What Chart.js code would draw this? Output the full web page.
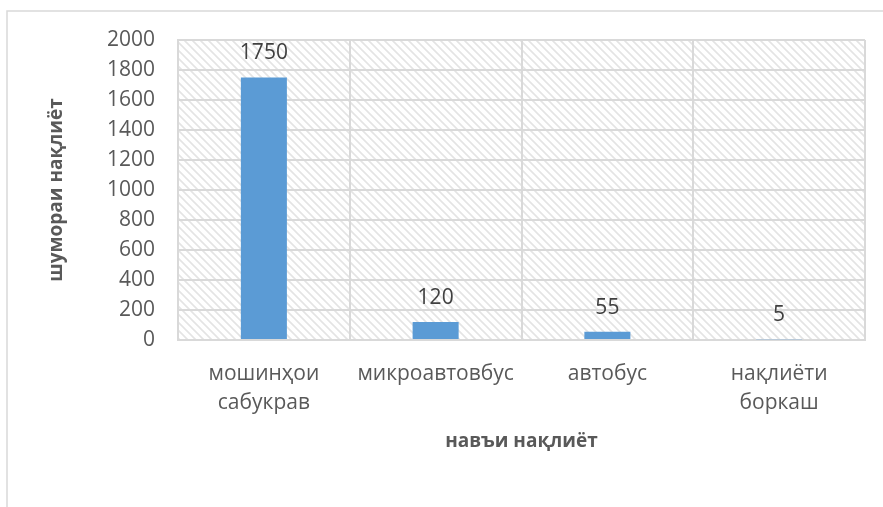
<!DOCTYPE html>
<html>
<head>
<meta charset="utf-8">
<script src="https://cdn.jsdelivr.net/npm/chart.js@4/dist/chart.umd.min.js"></script>
<style>
  html, body { margin: 0; padding: 0; background: #ffffff; }
  #wrap { width: 883px; height: 507px; position: relative; }
</style>
</head>
<body>
<div id="wrap"><canvas id="c" width="883" height="507"></canvas></div>
<script>
const categories = [["мошинҳои", "сабукрав"], "микроавтовбус", "автобус", ["нақлиёти", "боркаш"]];
const values = [1750, 120, 55, 5];
const yTicks = [0, 200, 400, 600, 800, 1000, 1200, 1400, 1600, 1800, 2000];
const yTitle = "шумораи нақлиёт";
const xTitle = "навъи нақлиёт";

const FONT = "'Open Sans', 'Noto Sans', sans-serif";
const GRID = "#d9d9d9";

function makeHatch() {
  const p = document.createElement('canvas');
  p.width = 8; p.height = 8;
  const g = p.getContext('2d');
  g.fillStyle = '#ffffff';
  g.fillRect(0, 0, 8, 8);
  g.strokeStyle = '#e4e4e4';
  g.lineWidth = 1.6;
  g.beginPath();
  g.moveTo(-2, -2); g.lineTo(10, 10);
  g.moveTo(-10, -2); g.lineTo(2, 10);
  g.moveTo(6, -2); g.lineTo(18, 10);
  g.stroke();
  return p;
}

const bgPlugin = {
  id: 'bg',
  beforeDraw(chart) {
    const ctx = chart.ctx;
    const a = chart.chartArea;
    ctx.save();
    ctx.strokeStyle = GRID;
    ctx.lineWidth = 1.5;
    ctx.beginPath();
    ctx.moveTo(7, 507);
    ctx.lineTo(7, 11);
    ctx.lineTo(883, 11);
    ctx.stroke();
    ctx.fillStyle = ctx.createPattern(makeHatch(), 'repeat');
    ctx.fillRect(a.left, a.top, a.right - a.left, a.bottom - a.top);
    ctx.restore();
  }
};

const labelPlugin = {
  id: 'vals',
  afterDatasetsDraw(chart) {
    const ctx = chart.ctx;
    const meta = chart.getDatasetMeta(0);
    ctx.save();
    ctx.font = "21px " + FONT;
    ctx.fillStyle = '#404040';
    ctx.textAlign = 'center';
    ctx.textBaseline = 'middle';
    meta.data.forEach((bar, i) => {
      ctx.fillText(String(values[i]), bar.x, bar.y - 24);
    });
    ctx.restore();
  }
};

new Chart(document.getElementById('c'), {
  type: 'bar',
  data: {
    labels: categories,
    datasets: [{
      data: values,
      backgroundColor: '#5b9bd5',
      borderWidth: 0,
      barPercentage: 0.268,
      categoryPercentage: 1.0
    }]
  },
  options: {
    responsive: false,
    animation: false,
    events: [],
    layout: { padding: { top: 40, right: 18, bottom: 0, left: 0 }, autoPadding: false },
    plugins: {
      legend: { display: false },
      tooltip: { enabled: false }
    },
    scales: {
      x: {
        grid: { color: GRID, lineWidth: 2, drawTicks: false, offset: true },
        border: { color: GRID, width: 2 },
        ticks: {
          color: '#595959',
          font: { family: FONT, size: 21, lineHeight: 1.38 },
          padding: 20,
          maxRotation: 0,
          autoSkip: false
        },
        title: {
          display: true,
          text: xTitle,
          color: '#595959',
          font: { family: FONT, size: 19, weight: 'bold', lineHeight: 1.2 },
          padding: { top: 0, bottom: 54 }
        },
        afterFit(scale) { scale.height = 167; }
      },
      y: {
        min: 0,
        max: 2000,
        grid: { color: GRID, lineWidth: 2, drawTicks: false },
        border: { color: GRID, width: 2 },
        afterBuildTicks(scale) { scale.ticks = yTicks.map(v => ({ value: v })); },
        ticks: {
          color: '#595959',
          font: { family: FONT, size: 21 },
          padding: 23,
          callback: (v) => String(v)
        },
        title: {
          display: true,
          text: yTitle,
          color: '#595959',
          font: { family: FONT, size: 19, weight: 'bold', lineHeight: 1.2 },
          padding: { top: 45, bottom: 0 }
        },
        afterFit(scale) { scale.width = 178; }
      }
    }
  },
  plugins: [bgPlugin, labelPlugin]
});
</script>
</body>
</html>
